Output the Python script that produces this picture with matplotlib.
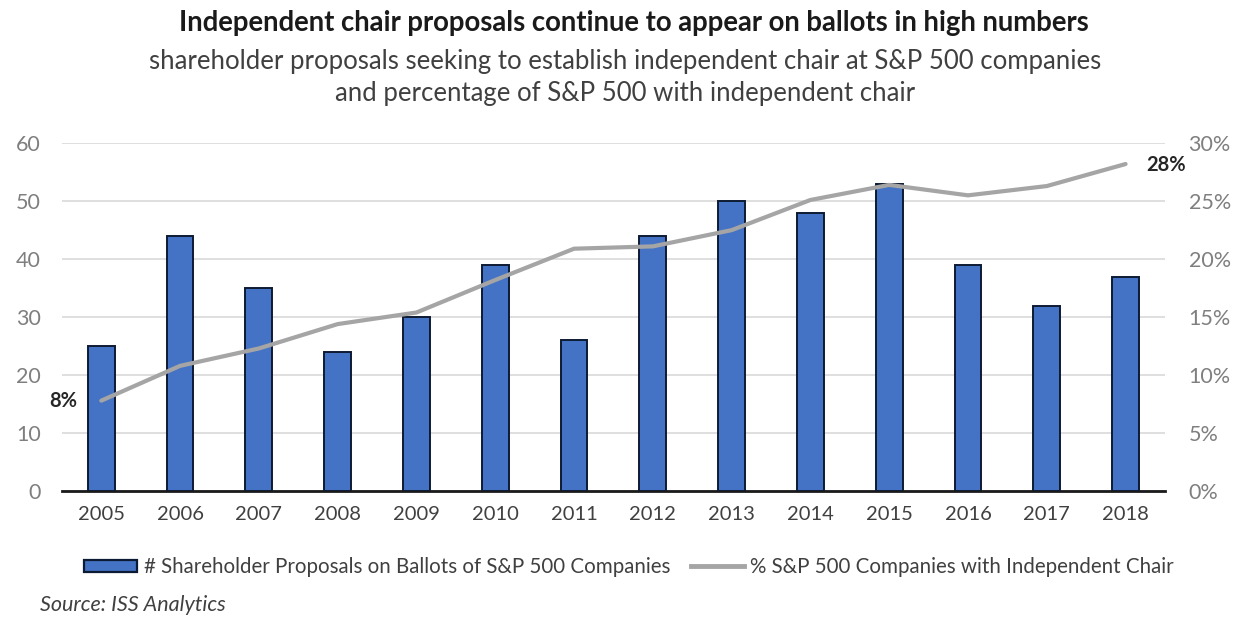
import matplotlib.pyplot as plt
from matplotlib.ticker import FuncFormatter
from matplotlib.patches import Patch
from matplotlib.lines import Line2D

plt.rcParams['font.family'] = ['Lato', 'DejaVu Sans']

years = ['2005', '2006', '2007', '2008', '2009', '2010', '2011',
         '2012', '2013', '2014', '2015', '2016', '2017', '2018']
proposals = [25, 44, 35, 24, 30, 39, 26, 44, 50, 48, 53, 39, 32, 37]
pct_independent = [7.8, 10.8, 12.3, 14.4, 15.4, 18.2, 20.9,
                   21.1, 22.5, 25.1, 26.4, 25.5, 26.3, 28.2]

bar_color = '#4472C4'
line_color = '#A5A5A5'
tick_color = '#7F7F7F'

fig = plt.figure(figsize=(12.38, 6.17), dpi=100)
ax = fig.add_axes([0.05, 0.204, 0.891, 0.564])
x = list(range(len(years)))

ax.bar(x, proposals, width=0.34, color=bar_color, edgecolor='#0D1A33',
       linewidth=1.4, zorder=3)
ax.set_ylim(0, 60)
ax.set_xlim(-0.5, 13.5)
ax.set_yticks(range(0, 61, 10))
ax.set_xticks(x)
ax.set_xticklabels(years)
ax.grid(axis='y', color='#D9D9D9', linewidth=1.2, zorder=0)
for s in ['top', 'right', 'left']:
    ax.spines[s].set_visible(False)
ax.spines['bottom'].set_color('#1A1A1A')
ax.spines['bottom'].set_linewidth(2)
ax.tick_params(axis='y', length=0, labelsize=15.5, labelcolor=tick_color, pad=15)
ax.tick_params(axis='x', length=0, labelsize=14.5, labelcolor='#404040', pad=11)

ax2 = ax.twinx()
ax2.plot(x, pct_independent, color=line_color, linewidth=3, zorder=4,
         solid_capstyle='round')
ax2.set_ylim(0, 30)
ax2.set_yticks(range(0, 31, 5))
ax2.yaxis.set_major_formatter(FuncFormatter(lambda v, p: f'{v:.0f}%'))
for s in ['top', 'right', 'left', 'bottom']:
    ax2.spines[s].set_visible(False)
ax2.tick_params(axis='y', length=0, labelsize=15.5, labelcolor=tick_color, pad=17)

# end-point labels for the percentage line
ax2.annotate(f'{pct_independent[0]:.0f}%', (x[0], pct_independent[0]),
             xytext=(-17, 0), textcoords='offset points', ha='right',
             va='center', fontsize=14.5, fontweight='bold', color='#262626')
ax2.annotate(f'{pct_independent[-1]:.0f}%', (x[-1], pct_independent[-1]),
             xytext=(15, -1), textcoords='offset points', ha='left',
             va='center', fontsize=14.5, fontweight='bold', color='#262626')

fig.text(0.512, 0.962, 'Independent chair proposals continue to appear on ballots in high numbers',
         ha='center', va='center', fontsize=19.8, fontweight='bold', color='#1A1A1A')
fig.text(0.505, 0.901, 'shareholder proposals seeking to establish independent chair at S&P 500 companies',
         ha='center', va='center', fontsize=18.5, color='#404040')
fig.text(0.505, 0.849, 'and percentage of S&P 500 with independent chair',
         ha='center', va='center', fontsize=18.5, color='#404040')

handles = [Patch(facecolor=bar_color, edgecolor='#0D1A33', linewidth=1.6),
           Line2D([0], [0], color=line_color, linewidth=3.5)]
labels = ['# Shareholder Proposals on Ballots of S&P 500 Companies',
          '% S&P 500 Companies with Independent Chair']
fig.legend(handles, labels, loc='center', bbox_to_anchor=(0.508, 0.081),
           ncol=2, frameon=False, fontsize=14.8, handlelength=2.6,
           handleheight=0.55, handletextpad=0.3, columnspacing=1.0,
           labelcolor='#404040')

fig.text(0.032, 0.02, 'Source: ISS Analytics', ha='left', va='center',
         fontsize=15.5, fontstyle='italic', color='#404040')

plt.savefig('out.png', dpi=100)
